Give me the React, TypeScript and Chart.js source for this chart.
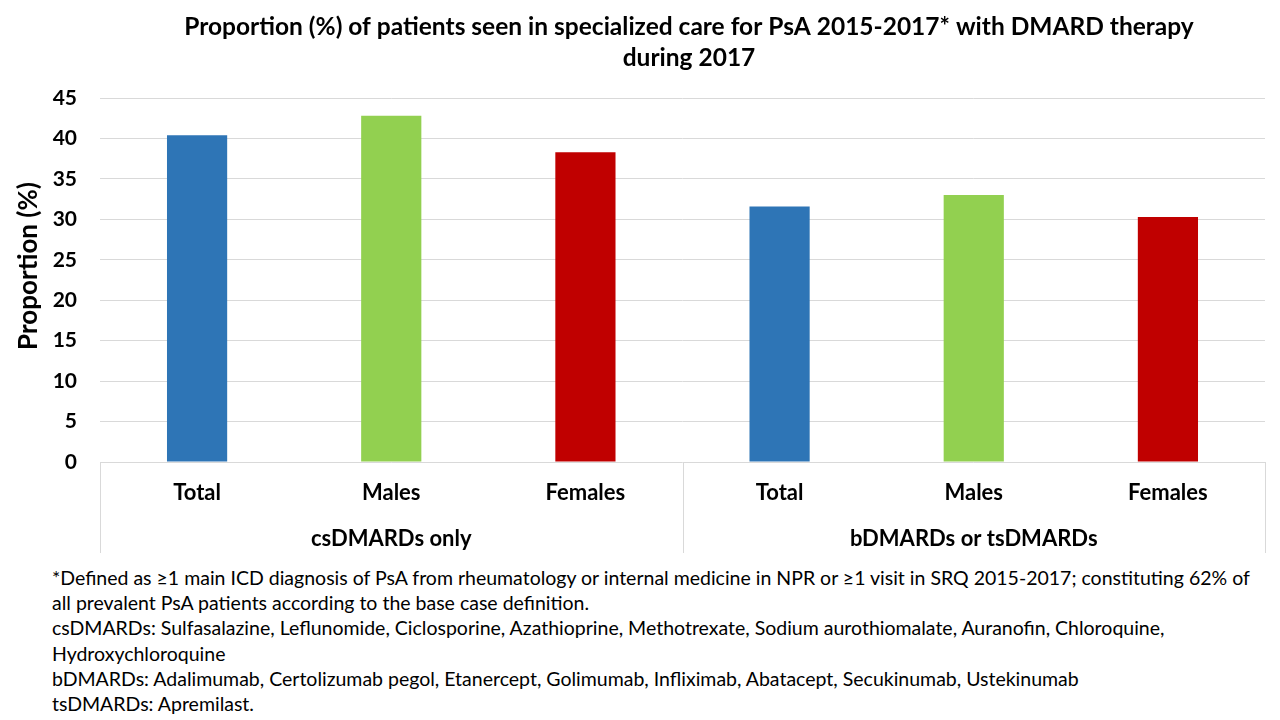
import React, { useEffect, useRef } from "react";
import { Chart, registerables } from "chart.js";

Chart.register(...registerables);

const categories = ["Total", "Males", "Females", "Total", "Males", "Females"];
const groups = ["csDMARDs only", "bDMARDs or tsDMARDs"];
const groupSize = 3;
const values = [40.4, 42.8, 38.3, 31.6, 33.0, 30.3];
const barColors = ["#2E75B6", "#92D050", "#C00000", "#2E75B6", "#92D050", "#C00000"];
const yMax = 45;
const yStep = 5;
const yTitle = "Proportion (%)";
const titleLines = [
  "Proportion (%) of patients seen in specialized care for PsA 2015-2017* with DMARD therapy",
  "during 2017",
];
const footnoteLines = [
  "*Defined as \u22651 main ICD diagnosis of PsA from rheumatology or internal medicine in NPR or \u22651 visit in SRQ 2015-2017; constituting 62% of",
  "all prevalent PsA patients according to the base case definition.",
  "csDMARDs: Sulfasalazine, Leflunomide, Ciclosporine, Azathioprine, Methotrexate, Sodium aurothiomalate, Auranofin, Chloroquine,",
  "Hydroxychloroquine",
  "bDMARDs: Adalimumab, Certolizumab pegol, Etanercept, Golimumab, Infliximab, Abatacept, Secukinumab, Ustekinumab",
  "tsDMARDs: Apremilast.",
];

const FONT = "Lato, 'Open Sans', sans-serif";
const GRID = "#d9d9d9";

const decorPlugin = {
  id: "decor",
  afterDraw(chart: any) {
    const ctx = chart.ctx;
    const area = chart.chartArea;
    const xs = chart.scales.x;
    ctx.save();
    // title
    ctx.fillStyle = "#000";
    ctx.textAlign = "center";
    ctx.textBaseline = "middle";
    ctx.font = `bold 24.5px ${FONT}`;
    ctx.fillText(titleLines[0], 689, 27);
    ctx.fillText(titleLines[1], 689, 58);
    // y title
    ctx.save();
    ctx.translate(29, 266);
    ctx.rotate(-Math.PI / 2);
    ctx.font = `bold 26px ${FONT}`;
    ctx.fillText(yTitle, 0, 0);
    ctx.restore();
    // category labels
    ctx.font = `bold 22px ${FONT}`;
    categories.forEach((c, i) => {
      ctx.fillText(c, xs.getPixelForValue(i), 493);
    });
    // group labels & separators
    const step = (area.right - area.left) / categories.length;
    ctx.strokeStyle = GRID;
    ctx.lineWidth = 1;
    const bottom = 553;
    for (let g = 0; g <= groups.length; g++) {
      const x = Math.round(area.left + g * groupSize * step) + 0.5;
      ctx.beginPath();
      ctx.moveTo(x, area.bottom);
      ctx.lineTo(x, bottom);
      ctx.stroke();
    }
    groups.forEach((g, i) => {
      const x0 = area.left + i * groupSize * step;
      const x1 = x0 + groupSize * step;
      ctx.fillText(g, (x0 + x1) / 2, 539);
    });
    ctx.restore();
  },
};

export default function App() {
  const ref = useRef<HTMLCanvasElement | null>(null);
  useEffect(() => {
    if (!ref.current) return;
    const chart = new Chart(ref.current, {
      type: "bar",
      data: {
        labels: categories,
        datasets: [
          {
            data: values,
            backgroundColor: barColors,
            categoryPercentage: 1,
            barPercentage: 0.31,
          },
        ],
      },
      options: {
        animation: false,
        responsive: false,
        devicePixelRatio: 1,
        layout: { padding: { top: 98, right: 15, left: 0, bottom: 7 } },
        plugins: {
          legend: { display: false },
          title: { display: false },
          tooltip: { enabled: false },
        },
        scales: {
          x: {
            ticks: { display: false },
            grid: { display: false },
            border: { display: false },
            afterFit: (s: any) => {
              s.height = 91;
            },
          },
          y: {
            min: 0,
            max: yMax,
            ticks: {
              stepSize: yStep,
              padding: 23,
              color: "#000",
              font: { family: FONT, size: 21, weight: "bold" },
            },
            grid: { color: GRID, drawTicks: false, lineWidth: 1 },
            border: { display: false },
            afterFit: (s: any) => {
              s.width = 100;
            },
          },
        },
      },
      plugins: [decorPlugin],
    } as any);
    return () => chart.destroy();
  }, []);

  return (
    <div
      style={{
        position: "fixed",
        left: 0,
        top: 0,
        width: 1280,
        height: 720,
        background: "#fff",
        overflow: "hidden",
      }}
    >
      <canvas ref={ref} width={1280} height={560} style={{ position: "absolute", left: 0, top: 0 }} />
      <div
        style={{
          position: "absolute",
          left: 52,
          top: 565,
          fontFamily: FONT,
          fontSize: 19.5,
          lineHeight: "25.2px",
          color: "#000",
          whiteSpace: "pre",
        }}
      >
        {footnoteLines.map((l, i) => (
          <div key={i}>{l}</div>
        ))}
      </div>
    </div>
  );
}
